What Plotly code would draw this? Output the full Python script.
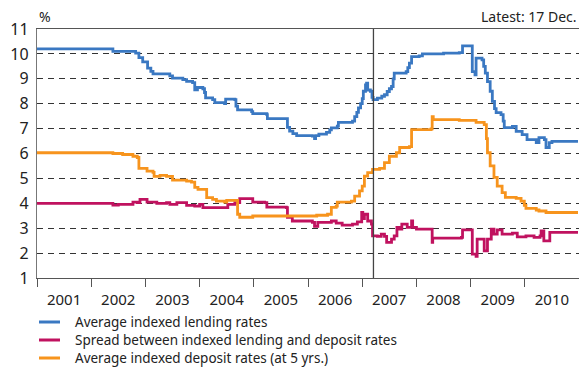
import pandas as pd
import plotly.graph_objects as go

# ---- data (x as years elapsed since 1 Jan 2001, y in %) ----
lending_t = [0, 1.40, 1.82, 1.88, 1.95, 2.04, 2.10, 2.14, 2.45, 2.50, 2.69, 2.76, 2.87, 2.91, 2.96,
             3.06, 3.09, 3.11, 3.24, 3.28, 3.46, 3.48, 3.65, 3.67, 3.70, 3.96, 3.98, 4.24, 4.25,
             4.60, 4.62, 4.66, 4.72, 4.79, 5.08, 5.12, 5.14, 5.20, 5.34, 5.40, 5.43, 5.54, 5.56,
             5.82, 5.86, 5.90, 5.93, 5.97, 6.00, 6.02, 6.06, 6.08, 6.10, 6.15, 6.18, 6.20, 6.28,
             6.36, 6.41, 6.46, 6.50, 6.54, 6.57, 6.59, 6.81, 6.84, 6.87, 6.91, 7.05, 7.11, 7.50,
             7.79, 7.85, 8.01, 8.03, 8.08, 8.10, 8.21, 8.24, 8.27, 8.31, 8.36, 8.40, 8.44, 8.47,
             8.56, 8.60, 8.62, 8.77, 8.84, 8.95, 9.04, 9.21, 9.26, 9.36, 9.39, 9.45, 9.50, 9.98]
lending_v = [10.2, 10.1, 10.03, 9.85, 9.68, 9.43, 9.3, 9.2, 9.12, 9.03, 8.97, 8.9, 8.85, 8.56, 8.65,
             8.6, 8.45, 8.23, 8.16, 8.04, 8.0, 8.18, 8.16, 7.9, 7.75, 7.68, 7.6, 7.56, 7.4,
             7.4, 7.05, 6.9, 6.8, 6.72, 6.7, 6.6, 6.72, 6.78, 6.85, 6.95, 7.03, 7.1, 7.25,
             7.3, 7.48, 7.65, 7.83, 8.0, 8.2, 8.5, 8.75, 8.83, 8.55, 8.5, 8.25, 8.16, 8.22,
             8.3, 8.36, 8.49, 8.6, 8.69, 9.0, 9.23, 9.29, 9.45, 9.63, 9.89, 9.92, 10.0, 10.03,
             10.05, 10.32, 10.32, 9.29, 9.16, 9.83, 9.76, 9.5, 9.23, 8.89, 8.5, 8.09, 7.8, 7.64,
             7.56, 7.3, 7.04, 7.09, 6.89, 6.76, 6.56, 6.44, 6.64, 6.56, 6.24, 6.44, 6.49, 6.49]

spread_t = [0, 1.40, 1.50, 1.77, 1.85, 1.90, 1.99, 2.03, 2.21, 2.39, 2.45, 2.58, 2.76, 2.91, 3.00,
            3.06, 3.46, 3.52, 3.65, 3.74, 3.96, 3.98, 4.20, 4.24, 4.60, 4.62, 4.71, 5.08, 5.12,
            5.18, 5.43, 5.52, 5.63, 5.82, 5.91, 5.99, 6.01, 6.04, 6.10, 6.17, 6.19, 6.28, 6.35,
            6.41, 6.45, 6.54, 6.59, 6.64, 6.69, 6.73, 6.83, 6.91, 6.93, 7.00, 7.24, 7.29, 7.30,
            7.83, 7.85, 8.01, 8.03, 8.10, 8.12, 8.25, 8.31, 8.38, 8.43, 8.49, 8.58, 8.77, 8.86,
            9.02, 9.17, 9.28, 9.30, 9.35, 9.46, 9.98]
spread_v = [4.0, 3.93, 3.96, 4.05, 4.03, 4.16, 4.16, 4.05, 4.0, 4.03, 3.96, 4.03, 3.92, 3.89, 3.96,
            3.83, 3.83, 3.96, 4.03, 4.19, 4.19, 4.05, 4.03, 3.85, 3.83, 3.44, 3.29, 3.23, 3.07,
            3.23, 3.29, 3.2, 3.12, 3.16, 3.25, 3.63, 3.39, 3.56, 3.29, 3.16, 2.69, 2.67, 2.76,
            2.67, 2.43, 2.56, 2.69, 3.03, 2.96, 3.16, 3.03, 3.29, 3.03, 2.96, 2.96, 2.43, 2.6,
            2.63, 2.93, 2.93, 1.96, 1.87, 2.56, 2.09, 2.56, 2.96, 2.76, 2.93, 2.76, 2.8, 2.65,
            2.69, 2.63, 2.69, 2.89, 2.49, 2.83, 2.83]

deposit_t = [0, 1.40, 1.58, 1.77, 1.85, 1.88, 2.03, 2.14, 2.16, 2.27, 2.39, 2.50, 2.76, 2.85, 2.91,
             2.97, 3.09, 3.13, 3.24, 3.31, 3.46, 3.50, 3.66, 3.70, 3.74, 3.98, 5.08, 5.16, 5.36,
             5.43, 5.52, 5.54, 5.80, 5.86, 5.95, 6.00, 6.04, 6.10, 6.19, 6.32, 6.41, 6.50, 6.63,
             6.69, 6.87, 6.91, 7.27, 7.29, 7.31, 7.79, 8.10, 8.25, 8.29, 8.31, 8.36, 8.43, 8.49,
             8.58, 8.64, 8.84, 8.93, 8.99, 9.02, 9.21, 9.26, 9.39, 9.98]
deposit_v = [6.03, 6.0, 5.96, 5.89, 5.84, 5.4, 5.29, 5.24, 5.08, 5.12, 5.08, 4.93, 4.89, 4.85, 4.64,
             4.56, 4.56, 4.23, 4.16, 4.09, 4.05, 4.12, 4.12, 3.56, 3.44, 3.49, 3.49, 3.52, 3.56,
             3.84, 3.89, 4.05, 4.09, 4.29, 4.5, 4.69, 5.09, 5.23, 5.36, 5.4, 5.63, 5.89, 6.03,
             6.24, 6.28, 6.96, 6.99, 7.48, 7.36, 7.33, 7.25, 7.16, 6.6, 6.03, 5.5, 5.04, 4.69,
             4.43, 4.24, 4.2, 4.09, 3.92, 3.8, 3.73, 3.69, 3.63, 3.63]

series_names = ["Average indexed lending rates",
                "Spread between indexed lending and deposit rates",
                "Average indexed deposit rates (at 5 yrs.)"]
series_colors = ["#3A78C2", "#C0125F", "#F7941D"]

start_date = pd.Timestamp("2001-01-01")
end_date = pd.Timestamp("2011-01-01")
marker_date = "2007-03-18"
y_ticks = list(range(1, 12))


def to_dates(ts):
    return [start_date + pd.Timedelta(days=t * 365.25) for t in ts]


# layout geometry (pixels)
W, H = 579, 369
M_L, M_R, M_T, M_B = 37, 0, 29, 91
plot_w = W - M_L - M_R
plot_h = H - M_T - M_B
legend_rows_px = [322, 340, 358]
swatch_px = (39, 60)
legend_text_px = 74


def px_x(px):
    return (px - M_L) / plot_w


def px_y(py):
    return (H - M_B - py) / plot_h


fig = go.Figure()
for name, color, ts, vs in zip(series_names, series_colors,
                               [lending_t, spread_t, deposit_t],
                               [lending_v, spread_v, deposit_v]):
    fig.add_trace(go.Scatter(x=to_dates(ts), y=vs, mode="lines", name=name,
                             line=dict(color=color, width=2.8, shape="hv")))

fig.add_shape(type="line", xref="x", yref="paper", x0=marker_date, x1=marker_date,
              y0=0, y1=1, line=dict(color="#444444", width=1.3))

font_family = "Noto Sans"
annotations = [
    dict(text="%", xref="paper", yref="paper", x=0.0, y=1.0, xanchor="left",
         yanchor="bottom", showarrow=False, font=dict(size=14), yshift=1),
    dict(text="Latest: 17 Dec.", xref="paper", yref="paper", x=1.0, y=1.0,
         xanchor="right", yanchor="bottom", showarrow=False, font=dict(size=14), yshift=1),
]

# legend (swatch + label per series)
for name, color, row in zip(series_names, series_colors, legend_rows_px):
    fig.add_shape(type="line", xref="paper", yref="paper",
                  x0=px_x(swatch_px[0]), x1=px_x(swatch_px[1]),
                  y0=px_y(row), y1=px_y(row), line=dict(color=color, width=3))
    annotations.append(dict(text=name, xref="paper", yref="paper",
                            x=px_x(legend_text_px), y=px_y(row), xanchor="left",
                            yanchor="middle", showarrow=False, borderpad=0,
                            font=dict(size=13.5, color="#222222")))

fig.update_layout(
    width=W, height=H,
    margin=dict(l=M_L, r=M_R, t=M_T, b=M_B, autoexpand=False),
    paper_bgcolor="white", plot_bgcolor="white",
    font=dict(family=font_family, color="#222222"),
    showlegend=False,
    xaxis=dict(type="date", range=[start_date, end_date], tick0="2001-01-01", dtick="M12",
               tickformat="%Y", ticklabelmode="period", ticks="outside", ticklen=8,
               tickcolor="#555555", tickfont=dict(size=15), showgrid=False,
               showline=True, linecolor="#555555", linewidth=1.3, mirror=True, zeroline=False),
    yaxis=dict(range=[1, 11], tickvals=y_ticks, ticks="", tickfont=dict(size=16),
               showgrid=True, gridcolor="#333333", gridwidth=1, griddash="6px,5px",
               showline=True, linecolor="#777777", linewidth=1.3, zeroline=False,
               ticklabelstandoff=4),
    annotations=annotations,
)

fig.write_html("out.html", config={"displayModeBar": False},
               post_script="document.body.style.margin='0';document.body.style.overflow='hidden';")
